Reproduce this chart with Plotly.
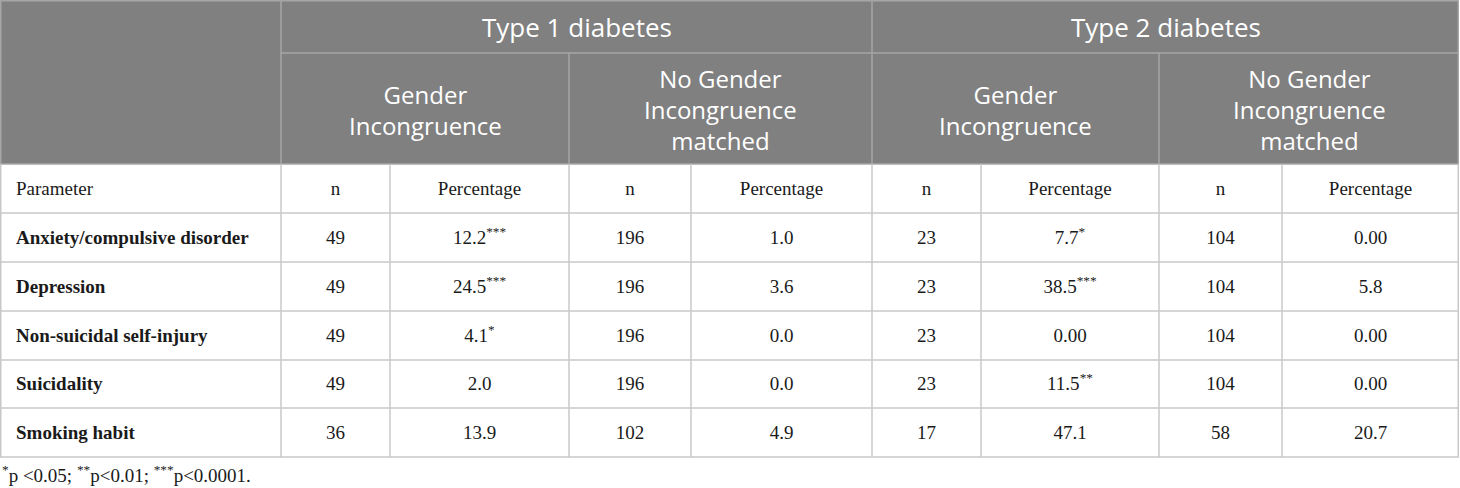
import plotly.graph_objects as go

# ---- data ----
groups = ["Type 1 diabetes", "Type 2 diabetes"]
subgroups = [["Gender", "Incongruence"], ["No Gender", "Incongruence", "matched"]]
col_labels = ["Parameter", "n", "Percentage", "n", "Percentage", "n", "Percentage", "n", "Percentage"]
parameters = ["Anxiety/compulsive disorder", "Depression", "Non-suicidal self-injury",
              "Suicidality", "Smoking habit"]
t1_gi_n = ["49", "49", "49", "49", "36"]
t1_gi_pct = ["12.2***", "24.5***", "4.1*", "2.0", "13.9"]
t1_no_n = ["196", "196", "196", "196", "102"]
t1_no_pct = ["1.0", "3.6", "0.0", "0.0", "4.9"]
t2_gi_n = ["23", "23", "23", "23", "17"]
t2_gi_pct = ["7.7*", "38.5***", "0.00", "11.5**", "47.1"]
t2_no_n = ["104", "104", "104", "104", "58"]
t2_no_pct = ["0.00", "5.8", "0.00", "0.00", "20.7"]
footnote = "<sup>*</sup>p <0.05; <sup>**</sup>p<0.01; <sup>***</sup>p<0.0001."

columns = [t1_gi_n, t1_gi_pct, t1_no_n, t1_no_pct, t2_gi_n, t2_gi_pct, t2_no_n, t2_no_pct]

# ---- layout geometry ----
W, H = 1460, 488
col_edges = [0, 281, 390, 569, 691, 872, 981, 1159, 1282, 1459]
row_edges = [0, 53, 164, 213, 262, 311, 360, 408, 457]
HEADER_BG = "#808080"
HEADER_LINE = "#a6a6a6"
BODY_LINE = "#c8c8c8"
TEXT = "#1a1a1a"
SERIF = "Liberation Serif, Times New Roman, serif"
SANS = "Open Sans, Noto Sans, sans-serif"
H1FONT = dict(family=SANS, size=26, color="white")
H2FONT = dict(family=SANS, size=24, color="white")
BFONT = dict(family=SERIF, size=19, color=TEXT)
TEXT_LEFT = 16
TEXT_DY = 1.5


def fmt(v):
    s = v.rstrip("*")
    stars = v[len(s):]
    return s + (f"<sup>{stars}</sup>" if stars else "")


fig = go.Figure()
shapes = []
# header background
shapes.append(dict(type="rect", x0=col_edges[0], x1=col_edges[-1], y0=row_edges[0], y1=row_edges[2],
                   fillcolor=HEADER_BG, line=dict(width=0), layer="below"))
# header lines
hl = dict(color=HEADER_LINE, width=1.5)
shapes.append(dict(type="line", x0=col_edges[1], x1=col_edges[-1], y0=row_edges[1], y1=row_edges[1], line=hl))
for ci in [1, 5]:
    shapes.append(dict(type="line", x0=col_edges[ci], x1=col_edges[ci], y0=row_edges[0], y1=row_edges[2], line=hl))
for ci in [3, 7]:
    shapes.append(dict(type="line", x0=col_edges[ci], x1=col_edges[ci], y0=row_edges[1], y1=row_edges[2], line=hl))
shapes.append(dict(type="rect", x0=col_edges[0] + 0.75, x1=col_edges[-1] - 0.75, y0=row_edges[0] + 0.75,
                   y1=row_edges[2], line=hl))
# body lines
bl = dict(color=BODY_LINE, width=1.5)
for ry in row_edges[3:]:
    shapes.append(dict(type="line", x0=col_edges[0], x1=col_edges[-1], y0=ry, y1=ry, line=bl))
for cx in col_edges:
    x = min(max(cx, 0.75), col_edges[-1] - 0.75)
    shapes.append(dict(type="line", x0=x, x1=x, y0=row_edges[2], y1=row_edges[-1], line=bl))

annotations = []
hdr2_mid = (row_edges[1] + row_edges[2]) / 2 + 1
for gi, g in enumerate(groups):
    x0, x1 = col_edges[1 + 4 * gi], col_edges[5 + 4 * gi]
    annotations.append(dict(x=(x0 + x1) / 2, y=(row_edges[0] + row_edges[1]) / 2, text=g, showarrow=False,
                            font=H1FONT, xanchor="center", yanchor="middle"))
    for si, lines in enumerate(subgroups):
        a, b = col_edges[1 + 4 * gi + 2 * si], col_edges[3 + 4 * gi + 2 * si]
        annotations.append(dict(x=(a + b) / 2, y=hdr2_mid, text="<br>".join(lines), showarrow=False,
                                font=H2FONT, xanchor="center", yanchor="middle", align="center"))

fig.update_layout(shapes=shapes, annotations=annotations)

row_centers = [(row_edges[i] + row_edges[i + 1]) / 2 + TEXT_DY for i in range(2, len(row_edges) - 1)]
label_y = row_centers[0]
body_y = row_centers[1:]
fig.add_trace(go.Scatter(x=[TEXT_LEFT] * (len(parameters) + 1), y=[label_y] + body_y, mode="text",
                         text=[col_labels[0]] + [f"<b>{p}</b>" for p in parameters], textposition="middle right",
                         textfont=BFONT, hoverinfo="skip", showlegend=False))
for ci, col in enumerate(columns):
    cx = (col_edges[ci + 1] + col_edges[ci + 2]) / 2
    fig.add_trace(go.Scatter(x=[cx] * (len(col) + 1), y=[label_y] + body_y, mode="text",
                             text=[col_labels[ci + 1]] + [fmt(v) for v in col], textposition="middle center",
                             textfont=BFONT, hoverinfo="skip", showlegend=False))

fig.add_annotation(x=0, y=474, text=footnote, showarrow=False, xanchor="left", yanchor="middle",
                   font=BFONT)

fig.update_layout(
    width=W, height=H, margin=dict(l=0, r=0, t=0, b=0),
    paper_bgcolor="white", plot_bgcolor="white",
    xaxis=dict(range=[0, W], visible=False, fixedrange=True),
    yaxis=dict(range=[H, 0], visible=False, fixedrange=True),
)
fig.write_html("out.html", config={"displayModeBar": False},
               post_script="document.body.style.margin='0px';document.body.style.overflow='hidden';")
